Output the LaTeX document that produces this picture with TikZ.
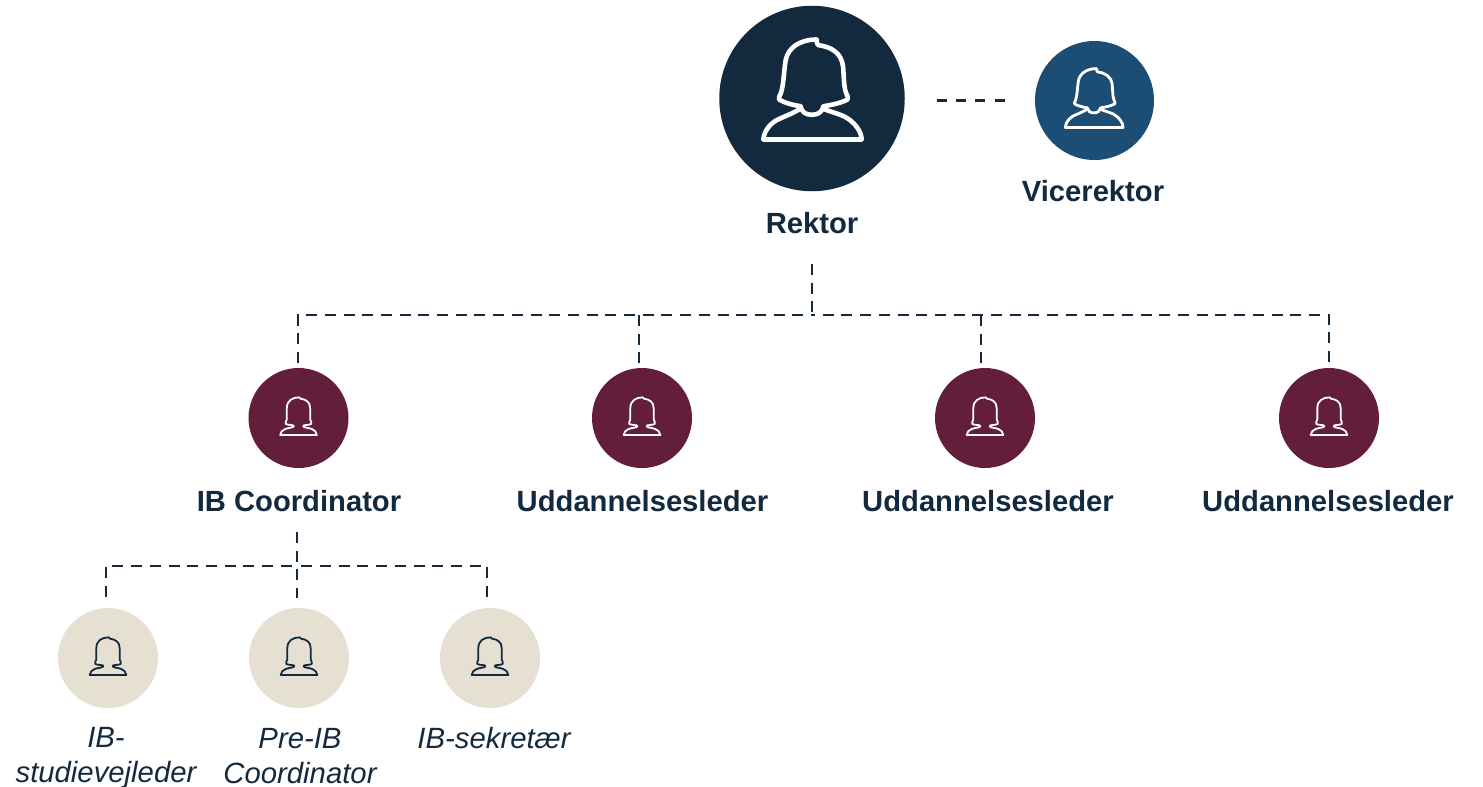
\documentclass[tikz,border=0pt]{standalone}
\usepackage{fontspec}
\setmainfont{Liberation Sans}
\definecolor{navy}{HTML}{132A3E}
\definecolor{vice}{HTML}{1C4D74}
\definecolor{maroon}{HTML}{621E3A}
\definecolor{beige}{HTML}{E6E0D3}
\tikzset{
  disc/.style={circle,inner sep=0pt,outer sep=0pt,draw=none},
  bigdisc/.style={disc,fill=navy,minimum size=185.5pt},
  vicedisc/.style={disc,fill=vice,minimum size=119pt},
  leaddisc/.style={disc,fill=maroon,minimum size=100pt},
  staffdisc/.style={disc,fill=beige,minimum size=100pt},
  headlabel/.style={text=navy,inner sep=0pt,font=\fontsize{29.2}{35}\selectfont\bfseries},
  stafflabel/.style={text=navy,inner sep=0pt,align=center,font=\fontsize{29.3}{35}\selectfont\itshape},
  dashline/.style={draw=navy,line width=2.9pt,dash pattern=on 11pt off 7.7pt},
  personicon/.pic={
    \draw[line join=round,line cap=round,pic actions]
      (-37,50) .. controls (-60,47) and (-85,40) .. (-102,30)
      .. controls (-104,26) and (-100,18) .. (-96,10)
      .. controls (-88,-15) and (-88,-50) .. (-82,-88)
      .. controls (-75,-125) and (-40,-150) .. (11,-150)
      .. controls (8,-142) and (14,-136) .. (16,-133)
      .. controls (55,-128) and (85,-110) .. (90,-70)
      .. controls (93,-40) and (92,-5) .. (100,12)
      .. controls (103,18) and (106,25) .. (104,30)
      .. controls (85,40) and (55,47) .. (31,50)
      .. controls (30,66) and (15,76) .. (-4,76)
      .. controls (-22,76) and (-36,66) .. (-37,50) -- cycle;
    \draw[line join=round,line cap=round,pic actions]
      (-39,58) .. controls (-60,72) and (-85,80) .. (-109,92)
      .. controls (-130,104) and (-147,125) .. (-149,150)
      -- (146,150)
      .. controls (145,125) and (125,98) .. (96,82)
      .. controls (75,72) and (50,66) .. (31,58);
  },
  smallicon/.pic={
    \draw[line join=round,line cap=round,pic actions]
      (-55,51) -- (55,51)
      .. controls (54,42) and (48,36) .. (40,33)
      .. controls (28,28) and (14,30) .. (14,24)
      .. controls (14,20) and (30,22) .. (38,18)
      .. controls (42,14) and (36,12) .. (35,4)
      -- (35,-30)
      .. controls (35,-48) and (22,-56) .. (6,-58)
      -- (2,-62)
      .. controls (-18,-62) and (-35,-52) .. (-35,-30)
      -- (-35,4)
      .. controls (-36,12) and (-42,14) .. (-38,18)
      .. controls (-30,22) and (-14,20) .. (-14,24)
      .. controls (-14,30) and (-28,28) .. (-40,33)
      .. controls (-48,36) and (-54,42) .. (-55,51) -- cycle;
  }
}
\begin{document}
\begin{tikzpicture}[x=1pt,y=-1pt]
\useasboundingbox (0,0) rectangle (1483,787);
% discs
\node[bigdisc] (rektor) at (812,98.5) {};
\node[vicedisc] (vicerektor) at (1094.5,100.5) {};
\node[leaddisc] (lead1) at (298.5,418) {};
\node[leaddisc] (lead2) at (642,418) {};
\node[leaddisc] (lead3) at (985,418) {};
\node[leaddisc] (lead4) at (1329,418) {};
\node[staffdisc] (staff1) at (108,658) {};
\node[staffdisc] (staff2) at (299,658) {};
\node[staffdisc] (staff3) at (490,658) {};
% icons
\pic[draw=white,line width=4.6pt,scale=0.3333] at (813,89.5) {personicon};
\pic[draw=white,line width=2.8pt,scale=0.196] at (1094.5,98) {personicon};
\foreach \n in {lead1,lead2,lead3,lead4}
  \pic[draw=white,line width=1.8pt,scale=0.3333] at (\n) {smallicon};
\foreach \n in {staff1,staff2,staff3}
  \pic[draw=navy,line width=1.8pt,scale=0.3333] at (\n) {smallicon};
% labels
\node[headlabel] (lrektor) at (812,223) {Rektor};
\node[headlabel] (lvice) at (1093,191) {Vicerektor};
\node[headlabel] (llead1) at (299,501) {IB Coordinator};
\node[headlabel] (llead2) at (642.5,501) {Uddannelsesleder};
\node[headlabel] (llead3) at (988,501) {Uddannelsesleder};
\node[headlabel] (llead4) at (1328,501) {Uddannelsesleder};
\node[stafflabel] (lstaff1) at (106,757.5) {IB-\\studievejleder};
\node[stafflabel] (lstaff2) at (300,756) {Pre-IB\\Coordinator};
\node[stafflabel] (lstaff3) at (494,738) {IB-sekretær};
% connector coordinates
\coordinate (busC) at (812,315);
\coordinate (bus1) at (298,315);
\coordinate (bus2) at (639,315);
\coordinate (bus3) at (981,315);
\coordinate (subC) at (297,566);
% connectors
\draw[dashline,dash pattern=on 10pt off 9.3pt,shorten <=32pt,shorten >=30pt] (rektor.east |- vicerektor.west) -- (vicerektor.west);
\draw[dashline,shorten <=41pt] (lrektor.center) -- (busC);
\draw[dashline,shorten <=5pt] (bus1 |- lead1.north) |- (busC);
\draw[dashline,shorten <=6pt] (lead4.north) |- (busC);
\draw[dashline,shorten >=3pt] (bus2) -- (bus2 |- lead2.north);
\draw[dashline,shorten >=3pt] (bus3) -- (bus3 |- lead3.north);
\draw[dashline,shorten <=31pt,shorten >=10pt] (llead1.center -| subC) -- (subC |- staff2.north);
\draw[dashline,shorten <=11pt] (staff1.north -| 106,0) |- (subC);
\draw[dashline,shorten <=11pt] (staff3.north -| 487,0) |- (subC);
\end{tikzpicture}
\end{document}
